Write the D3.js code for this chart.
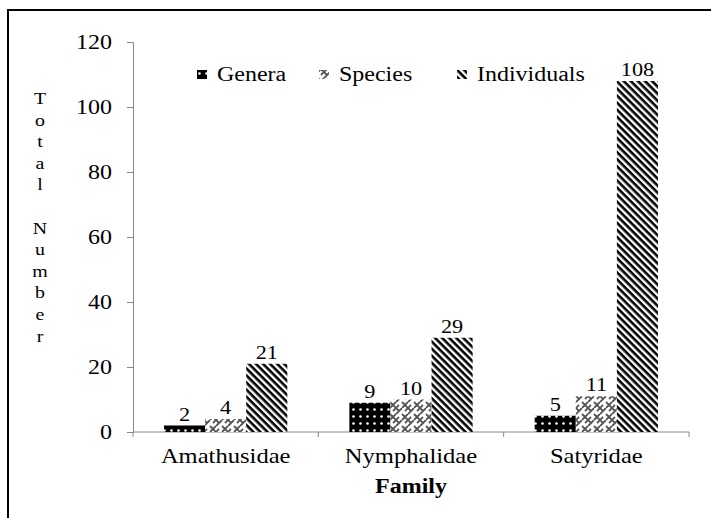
<!DOCTYPE html>
<html>
<head>
<meta charset="utf-8">
<script src="https://cdn.jsdelivr.net/npm/d3@7"></script>
<style>
  body { margin: 0; background: #fff; }
</style>
</head>
<body>
<div id="chart"></div>
<script>
// data
const families = ['Amathusidae', 'Nymphalidae', 'Satyridae'];
const seriesNames = ['Genera', 'Species', 'Individuals'];
const genera = [2, 9, 5];
const species = [4, 10, 11];
const individuals = [21, 29, 108];
const yTicks = [0, 20, 40, 60, 80, 100, 120];
const yLabelLetters = ['T', 'o', 't', 'a', 'l', '', 'N', 'u', 'm', 'b', 'e', 'r'];

const W = 711, H = 518;
const m = { left: 133, right: 22, top: 42, bottom: 86 };
const values = [genera, species, individuals];
const FONT = "'Liberation Serif', 'Times New Roman', serif";
const SX = 1.17; // the reference text is stretched sideways

const svg = d3.select('#chart').append('svg')
  .attr('width', W).attr('height', H)
  .attr('font-family', FONT);

// text placed at (x, y) and widened
function label(parent, x, y, str, size, anchor, bold) {
  return parent.append('text')
    .attr('transform', `translate(${x},${y}) scale(${SX},1)`)
    .attr('text-anchor', anchor || 'middle')
    .attr('font-family', FONT)
    .attr('font-size', size)
    .attr('font-weight', bold ? 'bold' : null)
    .attr('fill', '#000')
    .text(str);
}

// patterns
const defs = svg.append('defs');

const pDots = defs.append('pattern').attr('id', 'p-genera')
  .attr('patternUnits', 'userSpaceOnUse').attr('width', 7).attr('height', 7);
pDots.append('rect').attr('width', 7).attr('height', 7).attr('fill', '#000');
pDots.append('circle').attr('cx', 3.5).attr('cy', 3.5).attr('r', 1.3).attr('fill', '#fff');

const pWeave = defs.append('pattern').attr('id', 'p-species')
  .attr('patternUnits', 'userSpaceOnUse').attr('width', 12).attr('height', 12);
pWeave.append('rect').attr('width', 12).attr('height', 12).attr('fill', '#fff');
pWeave.append('path')
  .attr('d', 'M0,6 L6,0 M6,12 L12,6 M0,0 L3,3 M6,6 L12,12 M9,3 L12,0 M0,12 L3,9')
  .attr('stroke', '#555').attr('stroke-width', 1.8).attr('fill', 'none');

const pStripe = defs.append('pattern').attr('id', 'p-individuals')
  .attr('patternUnits', 'userSpaceOnUse').attr('width', 5).attr('height', 5)
  .attr('patternTransform', 'rotate(45)');
pStripe.append('rect').attr('width', 5).attr('height', 5).attr('fill', '#fff');
pStripe.append('rect').attr('width', 5).attr('height', 2.6).attr('fill', '#000');

const fills = ['url(#p-genera)', 'url(#p-species)', 'url(#p-individuals)'];

// outer frame (runs off the right and bottom edges)
svg.append('path')
  .attr('d', `M8,${H + 5} L8,10 L${W + 5},10`)
  .attr('fill', 'none').attr('stroke', '#000').attr('stroke-width', 2);

const x0 = d3.scaleBand().domain(families)
  .range([m.left, W - m.right]).paddingInner(0).paddingOuter(0);
const x1 = d3.scaleBand().domain(seriesNames)
  .range([0, x0.bandwidth()]).paddingOuter(0.755).paddingInner(0);
const y = d3.scaleLinear().domain([0, 120]).range([H - m.bottom, m.top]);

// y axis (labels redrawn so they can be widened)
const yAxis = svg.append('g').attr('transform', `translate(${m.left},0)`)
  .call(d3.axisLeft(y).tickValues(yTicks).tickSize(6));
yAxis.selectAll('path,line').attr('stroke', '#888');
yAxis.selectAll('.tick text').remove();
yTicks.forEach(t => label(svg, m.left - 21, y(t) + 6.5, t, 20.5, 'end'));

// x axis with ticks at band edges
const xAxisG = svg.append('g').attr('transform', `translate(0,${y(0)})`);
xAxisG.append('line').attr('x1', m.left).attr('x2', W - m.right)
  .attr('stroke', '#888');
const edges = families.map(f => x0(f)).concat([x0(families[families.length - 1]) + x0.bandwidth()]);
xAxisG.selectAll('line.tk').data(edges).join('line').attr('class', 'tk')
  .attr('x1', d => d).attr('x2', d => d).attr('y1', 0).attr('y2', 5)
  .attr('stroke', '#888');
families.forEach(f => label(svg, x0(f) + x0.bandwidth() / 2, 463, f, 21));

// bars
families.forEach((f, i) => {
  seriesNames.forEach((s, j) => {
    const v = values[j][i];
    svg.append('rect')
      .attr('x', x0(f) + x1(s)).attr('width', x1.bandwidth())
      .attr('y', y(v)).attr('height', y(0) - y(v))
      .attr('fill', fills[j]);
    label(svg, x0(f) + x1(s) + x1.bandwidth() / 2, y(v) - 5, v, 19);
  });
});

// legend
const legendX = [197, 319, 457];
seriesNames.forEach((s, j) => {
  svg.append('rect').attr('x', legendX[j]).attr('y', 70)
    .attr('width', 10).attr('height', 9).attr('fill', fills[j]);
  label(svg, legendX[j] + 20, 81, s, 20.5, 'start');
});

// y axis title as stacked letters
yLabelLetters.forEach((d, i) => label(svg, 40, 104 + i * 21.6, d, 17));

// x axis title
label(svg, (m.left + W - m.right) / 2, 493, 'Family', 20.5, 'middle', true);
</script>
</body>
</html>
